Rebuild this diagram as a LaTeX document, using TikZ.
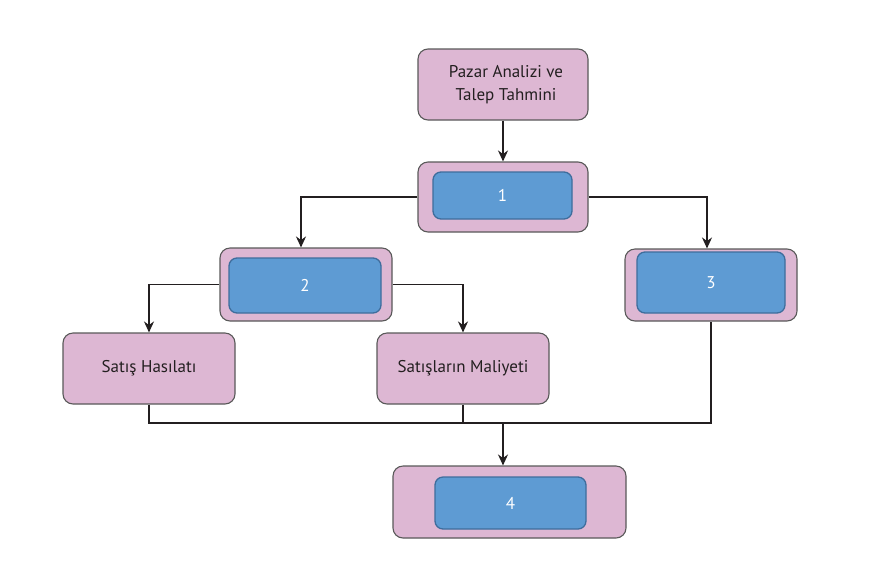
\documentclass[tikz,border=0pt]{standalone}
\usepackage{fontspec}
\setmainfont{PT Sans}
\usetikzlibrary{arrows.meta}
\definecolor{boxpink}{HTML}{DDB7D3}
\definecolor{boxblue}{HTML}{5E9BD3}
\definecolor{blueline}{HTML}{3E6D9C}
\definecolor{ink}{HTML}{231F20}

\begin{document}
\begin{tikzpicture}[
		x=1pt, y=-1pt,
		outer/.style={rectangle, rounded corners=10pt, draw=black!65, line width=1.1pt, fill=boxpink, text=ink, font=\fontsize{17}{23}\selectfont, align=center, inner sep=0pt},
		inner/.style={rectangle, rounded corners=8pt, draw=blueline, line width=1.3pt, fill=boxblue, text=white, font=\fontsize{17}{20}\selectfont, inner sep=0pt},
		link/.style={draw=ink, line width=1.5pt},
		arr/.style={link, -{Stealth[length=11pt, width=10pt]}}
	]
  \useasboundingbox (0,0) rectangle (882,563);
  \node (pazar) [outer, minimum width=170pt, minimum height=71pt] at (503,84.5) {\hspace*{6pt}Pazar Analizi ve\\\hspace*{6pt}Talep Tahmini};
  \node (k1) [outer, minimum width=170pt, minimum height=70pt] at (503,197) {};
  \node (m1) [inner, minimum width=139pt, minimum height=47pt] at (502.5,195.5) {1};
  \node (k2) [outer, minimum width=172pt, minimum height=73pt] at (306,284.5) {};
  \node (m2) [inner, minimum width=152pt, minimum height=55pt] at (305,285.5) {2};
  \node (k3) [outer, minimum width=172pt, minimum height=72pt] at (711,285) {};
  \node (m3) [inner, minimum width=148pt, minimum height=61pt] at (711,282.5) {3};
  \node (hasilat) [outer, minimum width=172pt, minimum height=71pt] at (149,368.5) {Satış Hasılatı};
  \node (maliyet) [outer, minimum width=172pt, minimum height=71pt] at (463,368.5) {Satışların Maliyeti};
  \node (k4) [outer, minimum width=233pt, minimum height=72pt] at (509.5,502) {};
  \node (m4) [inner, minimum width=151pt, minimum height=52pt] at (510.5,503) {4};
  \coordinate (birlesme) at (503,423);
  \draw[arr] (pazar) -- (k1);
  \draw[arr] (k1.west) -| ([xshift=-5pt]k2.north);
  \draw[arr] (k1.east) -| ([xshift=-4pt]k3.north);
  \draw[arr] (k2.west) -| (hasilat.north);
  \draw[arr] (k2.east) -| (maliyet.north);
  \draw[link] (hasilat.south) |- (birlesme -| k3.south) -- (k3.south);
  \draw[link] (maliyet.south) -- (maliyet.south |- birlesme);
  \draw[arr] (birlesme) -- (birlesme |- k4.north);
\end{tikzpicture}
\end{document}
